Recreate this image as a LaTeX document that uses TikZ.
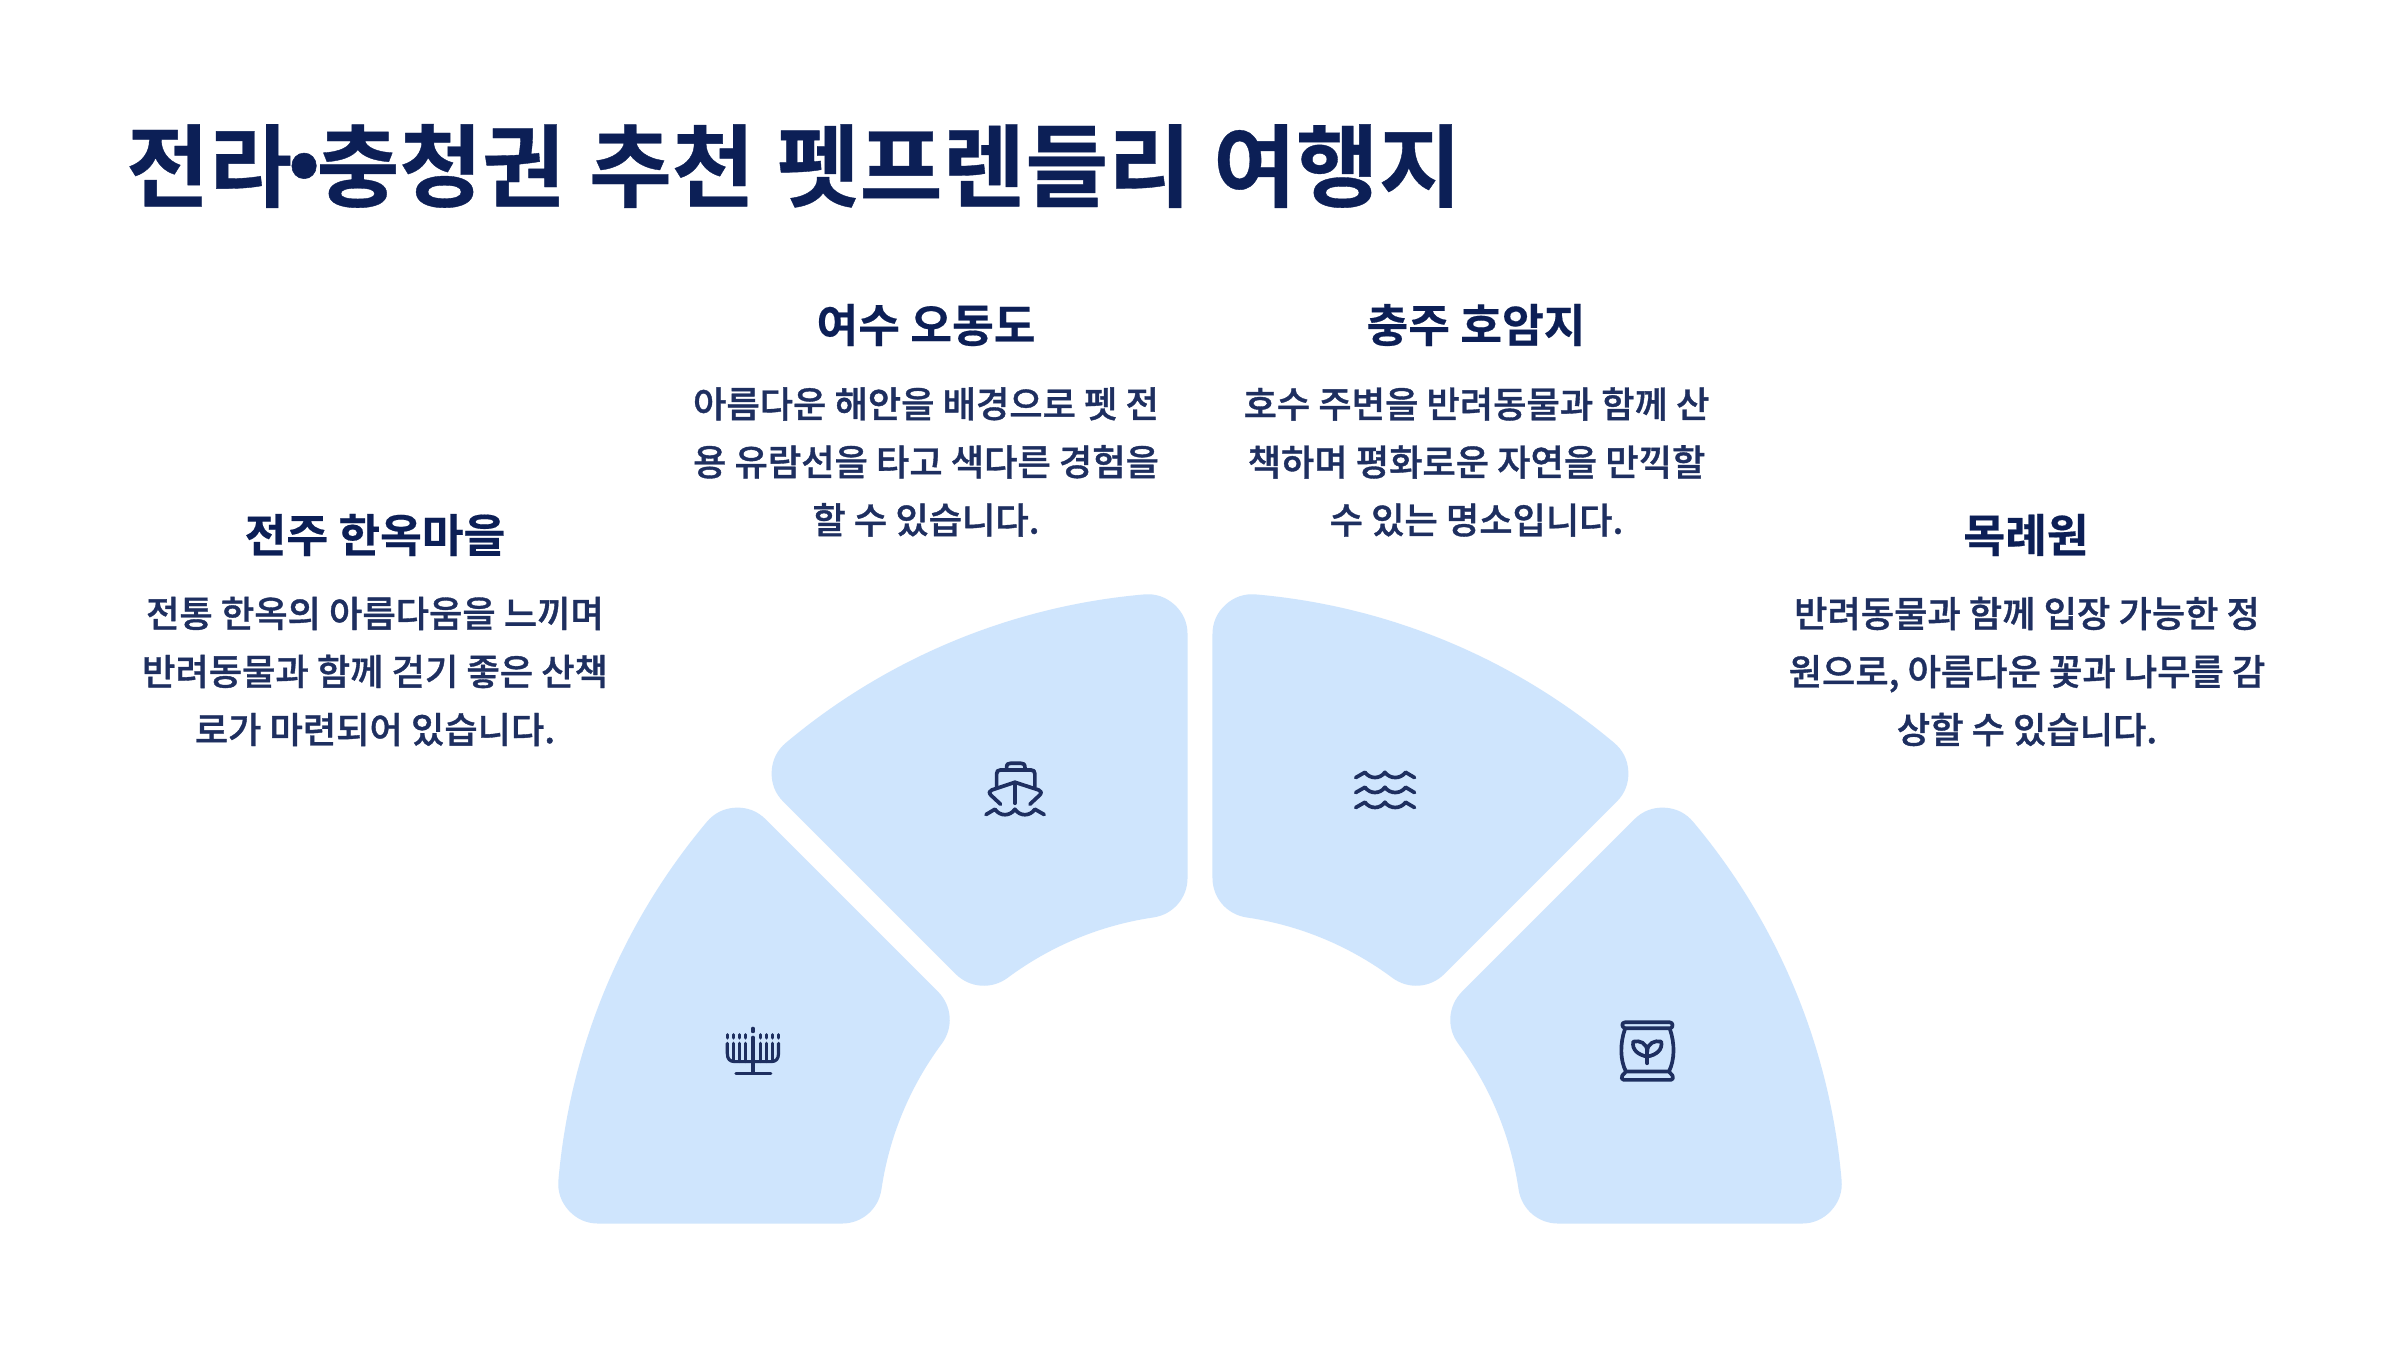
\documentclass[tikz,border=0pt]{standalone}
\usepackage{fontspec}
\setmainfont{Noto Sans CJK KR}[BoldFont={Noto Sans CJK KR Bold},BoldFeatures={FakeBold=0.4}]
\newfontfamily\krmed{Noto Sans CJK KR Medium}[FakeBold=1]
\definecolor{sectorblue}{HTML}{CFE5FD}
\definecolor{titlenavy}{HTML}{0C1F56}
\definecolor{bodynavy}{HTML}{1E2F60}
\tikzset{
  sector/.style={fill=sectorblue,draw=sectorblue,line width=0.8cm,line join=round},
  icon/.style={draw=bodynavy,line width=1.05pt,line cap=round,line join=round},
  titletext/.style={text=titlenavy,font=\bfseries\fontsize{25.6}{30}\selectfont,inner sep=0pt},
  headtext/.style={text=titlenavy,font=\bfseries\fontsize{12.9}{16}\selectfont,inner sep=0pt},
  bodytext/.style={text=bodynavy,font=\krmed\fontsize{10.3}{16.5}\selectfont,align=center,inner sep=0pt},
}
\newcommand{\ringsector}[4]{%
  \path[sector] (#1:604) arc[start angle=#1,end angle=#2,radius=604]
    -- (#3:362) arc[start angle=#3,end angle=#4,radius=362] -- cycle;}
\newcommand{\bigdot}{\makebox[7pt][c]{\smash{\raisebox{-4.5pt}{\fontsize{38}{40}\selectfont ·}}}}
\begin{document}
\begin{tikzpicture}[x=0.01cm,y=0.01cm]
\useasboundingbox (0,0) rectangle (2400,1350);
\fill[white] (0,0) rectangle (2400,1350);

\begin{scope}[shift={(1200,114)}]
  \ringsector{175.014}{139.986}{143.339}{171.661}
  \ringsector{130.014}{94.986}{98.339}{126.661}
  \ringsector{85.014}{49.986}{53.339}{81.661}
  \ringsector{40.014}{4.986}{8.339}{36.661}
\end{scope}

\node[titletext] (title) at (794,1184) {전라\bigdot 충청권\hspace{1pt} 추천\hspace{0.5pt} 펫프렌들리\hspace{0.5pt} 여행지};

\node[headtext] (h1) at (375,815) {전주 한옥마을};
\node[bodytext] (b1) at (375,678.5) {전통 한옥의 아름다움을 느끼며\\반려동물과 함께 걷기 좋은 산책\\로가 마련되어 있습니다.};
\node[headtext] (h2) at (926,1025) {여수 오동도};
\node[bodytext] (b2) at (926,888) {아름다운 해안을 배경으로 펫 전\\용 유람선을 타고 색다른 경험을\\할 수 있습니다.};
\node[headtext] (h3) at (1476,1025) {충주 호암지};
\node[bodytext] (b3) at (1476.5,888) {호수 주변을 반려동물과 함께 산\\책하며 평화로운 자연을 만끽할\\수 있는 명소입니다.};
\node[headtext] (h4) at (2026,815) {목례원};
\node[bodytext] (b4) at (2027,678.5) {반려동물과 함께 입장 가능한 정\\원으로, 아름다운 꽃과 나무를 감\\상할 수 있습니다.};

% ship
\begin{scope}[shift={(960,610)},x=0.003333cm,y=-0.003333cm]
  \draw[icon] (140,90) -- (140,82) .. controls (140,72) and (145,70) .. (152,70) -- (183,70) .. controls (190,70) and (195,72) .. (195,82) -- (195,90);
  \draw[icon] (110,140) -- (110,102) .. controls (110,94) and (114,90) .. (122,90) -- (213,90) .. controls (221,90) and (225,94) .. (225,102) -- (225,140);
  \draw[icon] (122,193) -- (92,165) .. controls (86,158) and (88,153) .. (96,150) -- (165,127) -- (236,150) .. controls (244,153) and (246,158) .. (240,165) -- (210,193);
  \draw[icon] (165,127) -- (165,190);
  \draw[icon] (78,224) -- (105,208) .. controls (120,230) and (150,230) .. (165,208) .. controls (180,230) and (210,230) .. (225,208) -- (253,224);
\end{scope}

% waves
\begin{scope}[shift={(1340,610)},x=0.003333cm,y=-0.003333cm]
  \foreach \rowy in {0,45,90}{
    \draw[icon,yshift=-\rowy*0.003333cm] (47,113) -- (75,97) .. controls (90,118) and (120,118) .. (135,97) .. controls (150,118) and (182,118) .. (197,97) -- (224,113);
  }
\end{scope}

% menorah
\begin{scope}[shift={(710,340)},x=0.003333cm,y=-0.003333cm]
  \begin{scope}[icon/.append style={line width=0.9pt}]
  \draw[icon] (129,55) -- (129,65);
  \foreach \dotx in {52,70,88,106,152,170,188,206}{
    \draw[icon] (\dotx,74) -- (\dotx,84);
  }
  \draw[icon] (129,82) -- (129,190);
  \draw[icon] (52,100) -- (52,130) .. controls (52,148) and (60,155) .. (75,155) -- (183,155) .. controls (198,155) and (206,148) .. (206,130) -- (206,100);
  \foreach \candx in {70,88,106,152,170,188}{
    \draw[icon] (\candx,100) -- (\candx,155);
  }
  \draw[icon] (78,191) -- (183,191);
  \end{scope}
\end{scope}

% bag with sprout
\begin{scope}[shift={(1590,340)},x=0.003333cm,y=-0.003333cm]
  \draw[icon] (105,37) -- (240,37) .. controls (248,37) and (252,50) .. (242,55) -- (105,55) .. controls (93,50) and (96,37) .. (105,37) -- cycle;
  \draw[icon] (108,185) -- (237,185) -- (248,197) .. controls (252,204) and (248,210) .. (243,210) -- (102,210) .. controls (96,210) and (92,204) .. (97,197) -- cycle;
  \draw[icon] (105,57) .. controls (90,100) and (90,150) .. (108,185);
  \draw[icon] (240,57) .. controls (255,100) and (255,150) .. (237,185);
  \draw[icon] (172,160) -- (172,120);
  \draw[icon] (172,140) .. controls (145,135) and (125,120) .. (130,95) .. controls (150,90) and (172,100) .. (172,125);
  \draw[icon] (172,140) .. controls (199,135) and (219,120) .. (214,95) .. controls (194,90) and (172,100) .. (172,125);
\end{scope}
\end{tikzpicture}
\end{document}
